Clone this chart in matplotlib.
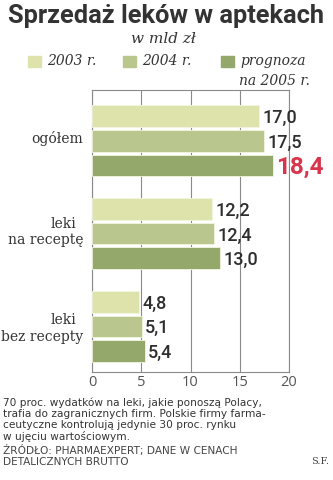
import matplotlib
matplotlib.use("Agg")
import matplotlib.pyplot as plt
import numpy as np

categories = ["ogółem", "leki na receptę", "leki bez recepty"]
years = ["2003 r.", "2004 r.", "prognoza\nna 2005 r."]
v2003 = [17.0, 12.2, 4.8]
v2004 = [17.5, 12.4, 5.1]
v2005 = [18.4, 13.0, 5.4]
ticks = [0, 5, 10, 15, 20]

colors = ["#dde3aa", "#b9c68e", "#93a86a"]

W, H = 333, 480
fig = plt.figure(figsize=(W / 100, H / 100), dpi=100)

def fx(x):
    return x / W

def fy(y):
    return 1 - y / H

ax = fig.add_axes([fx(92), fy(372), fx(289) - fx(92), fy(90) - fy(372)])

series = [v2003, v2004, v2005]
offsets = [-0.267, 0, 0.267]
pos = np.arange(len(categories))
for s, off, c in zip(series, offsets, colors):
    ax.barh(pos + off, s, height=0.235, color=c, edgecolor="#f4f6e0",
            linewidth=0.6, zorder=3)

for i in range(len(categories)):
    for j, s in enumerate(series):
        txt = f"{s[i]:.1f}".replace(".", ",")
        if j == 2 and i == 0:
            ax.text(s[i] + 0.3, pos[i] + offsets[j] + 0.02, txt, va="center",
                    ha="left", fontsize=17.5, color="#d8344c", fontweight="bold",
                    family="Roboto", zorder=4)
        else:
            ax.text(s[i] + 0.3, pos[i] + offsets[j] + 0.02, txt, va="center",
                    ha="left", fontsize=13, color="#2e2e2e",
                    fontweight="medium", family="Roboto", zorder=4)

ax.set_xlim(0, 20)
ax.set_ylim(2.49, -0.545)
ax.set_xticks(ticks)
ax.set_xticklabels([str(t) for t in ticks], fontsize=10.5, color="#555555",
                   family="Open Sans")
ax.set_yticks([])
ax.tick_params(axis="x", length=0, pad=2)
ax.grid(axis="x", color="#8a8a8a", linewidth=0.8, zorder=0)
for sp in ax.spines.values():
    sp.set_color("#8a8a8a")
    sp.set_linewidth(0.8)

# category labels
serif = "DejaVu Serif"
cat_fs = 10
fig.text(fx(83), fy(139), "ogółem", ha="right", va="center", fontsize=cat_fs,
         family=serif, color="#333333")
fig.text(fx(63), fy(224), "leki", ha="center", va="center", fontsize=cat_fs,
         family=serif, color="#333333")
fig.text(fx(83), fy(240), "na receptę", ha="right", va="center", fontsize=cat_fs,
         family=serif, color="#333333")
fig.text(fx(63), fy(320), "leki", ha="center", va="center", fontsize=cat_fs,
         family=serif, color="#333333")
fig.text(fx(83), fy(337), "bez recepty", ha="right", va="center", fontsize=cat_fs,
         family=serif, color="#333333")

# title
fig.text(fx(166), fy(16), "Sprzedaż leków w aptekach", ha="center",
         va="center", fontsize=18.3, fontweight="bold", family="Roboto",
         color="#333333")
fig.text(fx(163), fy(39), "w mld zł", ha="center", va="center", fontsize=11,
         style="italic", family="DejaVu Serif", color="#333333")

# legend
leg_x = [28, 123, 221]
for x, lab, c in zip(leg_x, years, colors):
    fig.patches.append(plt.Rectangle((fx(x), fy(67)), fx(13), fy(0) - fy(11),
                                     transform=fig.transFigure, color=c))
    lines = lab.split("\n")
    fig.text(fx(x + 19), fy(61), lines[0], ha="left", va="center",
             fontsize=10, style="italic", family="DejaVu Serif",
             color="#333333")
    if len(lines) > 1:
        fig.text(fx(310), fy(81), lines[1], ha="right", va="center",
                 fontsize=10, style="italic", family="DejaVu Serif",
                 color="#333333")

note = ("70 proc. wydatków na leki, jakie ponoszą Polacy,\n"
        "trafia do zagranicznych firm. Polskie firmy farma-\n"
        "ceutyczne kontrolują jedynie 30 proc. rynku\n"
        "w ujęciu wartościowym.")
fig.text(fx(3), fy(397), note, ha="left", va="top", fontsize=7.6,
         family="DejaVu Sans", color="#333333", linespacing=1.13)
fig.text(fx(3), fy(445), "ŹRÓDŁO: PHARMAEXPERT; DANE W CENACH\nDETALICZNYCH BRUTTO",
         ha="left", va="top", fontsize=7.6, family="DejaVu Sans",
         color="#444444", linespacing=1.1)
fig.text(fx(329), fy(461), "S.F.", ha="right", va="center", fontsize=7,
         family="DejaVu Serif", color="#444444")

fig.savefig("out.png", dpi=100, facecolor="white")
